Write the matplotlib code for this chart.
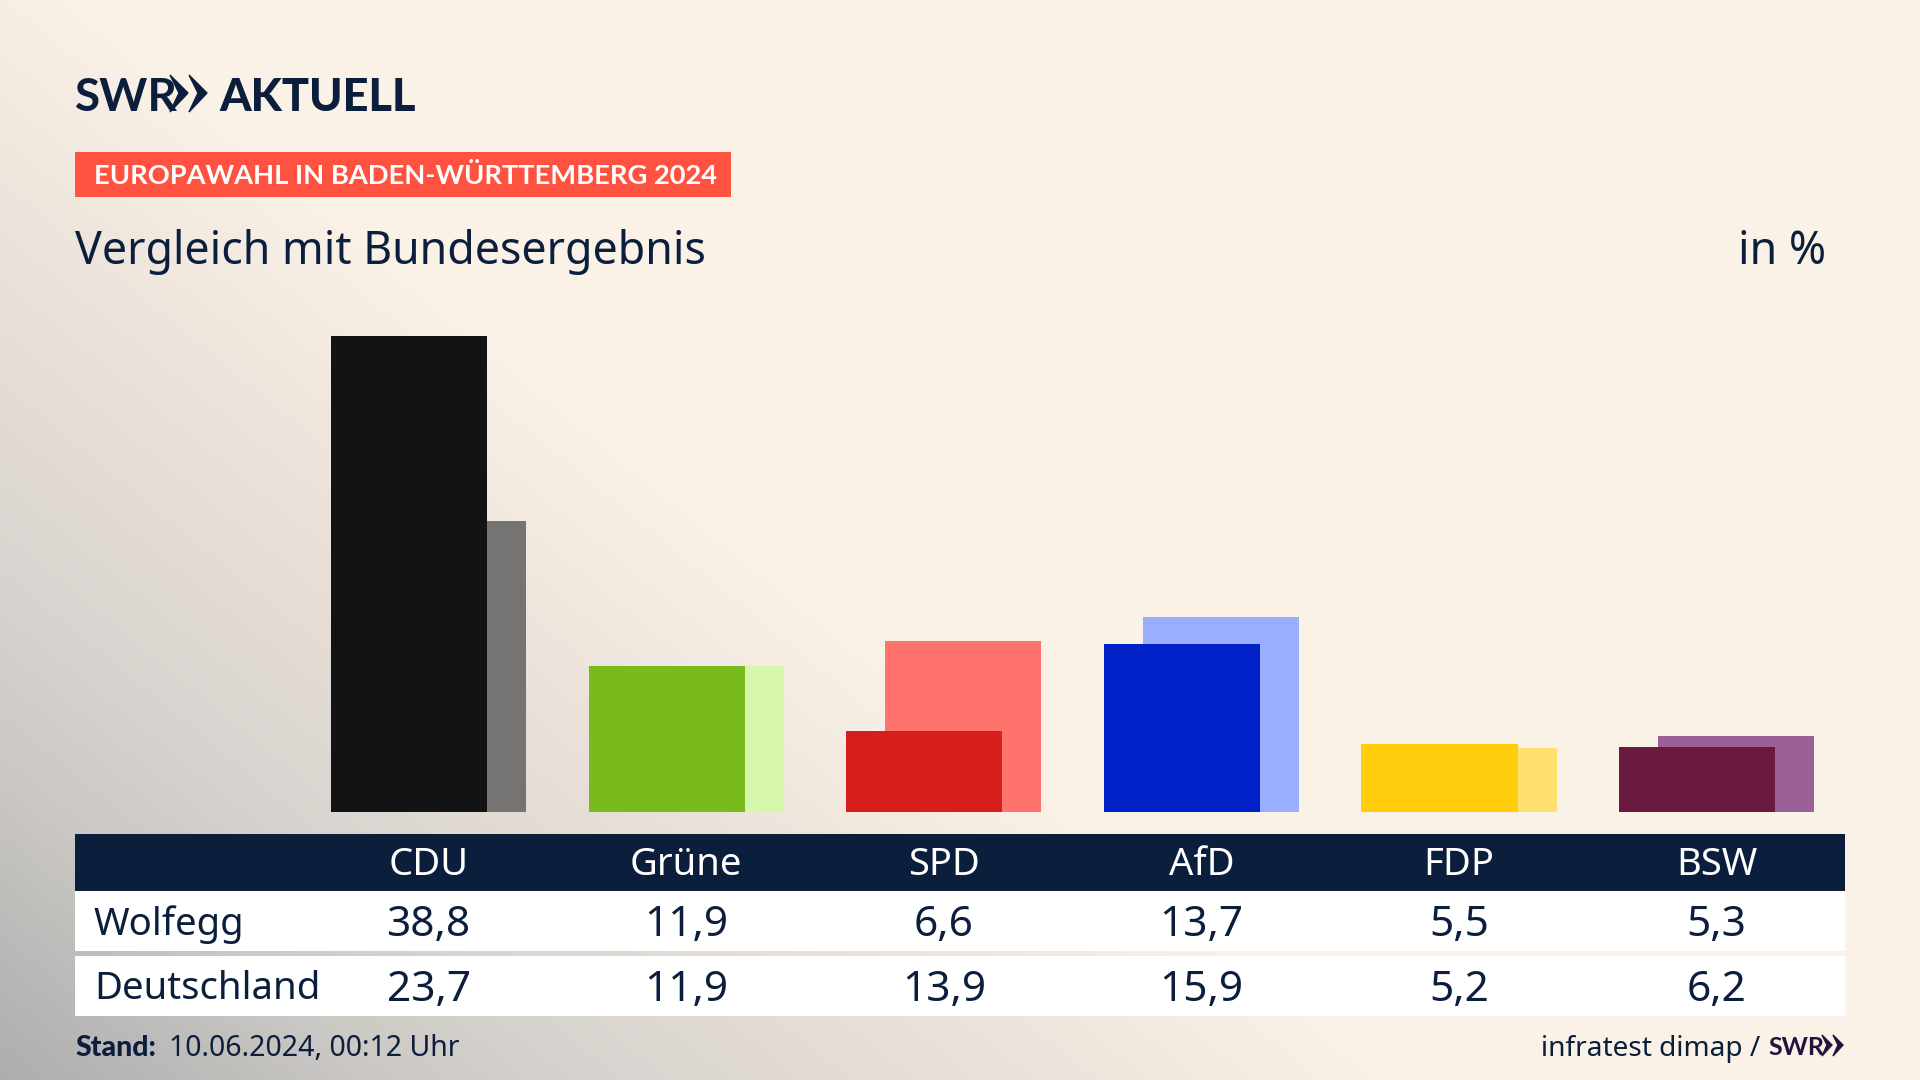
import numpy as np
import matplotlib
matplotlib.use("Agg")
import matplotlib.pyplot as plt
from matplotlib.patches import Rectangle, Polygon
from matplotlib.colors import LinearSegmentedColormap
from matplotlib.transforms import blended_transform_factory

parties = ["CDU", "Grüne", "SPD", "AfD", "FDP", "BSW"]
wolfegg = [38.8, 11.9, 6.6, 13.7, 5.5, 5.3]
deutschland = [23.7, 11.9, 13.9, 15.9, 5.2, 6.2]
front_colors = ["#131313", "#79bb1b", "#d61f1d", "#0020c8", "#ffcd0b", "#6a1a3f"]
back_colors = ["#757472", "#d6f6ac", "#ff736c", "#9badff", "#ffe06f", "#9b6095"]
row_names = ["Wolfegg", "Deutschland"]

NAVY = "#0b1f3d"
BODY = ["Noto Sans", "DejaVu Sans"]
LOGO = ["Lato", "Liberation Sans"]

fig = plt.figure(figsize=(19.2, 10.8), dpi=100)
bg = fig.add_axes([0, 0, 1, 1])
bg.set_xlim(0, 1920); bg.set_ylim(1080, 0); bg.axis("off")

# background: diagonal linear gradient, grey bottom-left to cream
xx, yy = np.meshgrid(np.linspace(0, 1920, 480), np.linspace(0, 1080, 270))
d = xx / 1400 + (1080 - yy) / 1150
t = np.clip(1 - d, 0, 1)
cmap = LinearSegmentedColormap.from_list(
    "bg", [(0, "#faf1e7"), (0.39, "#e4dcd5"), (0.57, "#d7d4cf"), (0.71, "#cdcac6"), (1, "#aeaeae")])
bg.imshow(t, extent=[0, 1920, 1080, 0], cmap=cmap, vmin=0, vmax=1.0, aspect="auto", zorder=0)

# chart
ax = fig.add_axes([299.8 / 1920, (1080 - 812) / 1080, 1545.6 / 1920, 491.2 / 1080])
ax.set_xlim(-0.5, 5.5); ax.set_ylim(0, 40); ax.axis("off"); ax.patch.set_alpha(0)
x = np.arange(len(parties))
ax.bar(x + 0.0757, deutschland, width=0.606, color=back_colors)
ax.bar(x - 0.0757, wolfegg, width=0.606, color=front_colors)

# header
for off in (0, 19):
    bg.add_patch(Polygon([(170 + off, 75), (188 + off, 93), (170 + off, 112), (179 + off, 93)],
                         closed=True, fc=NAVY, ec=NAVY, lw=1, zorder=3))
bg.text(75, 111, "SWR", family=LOGO, weight="bold", fontsize=33, color=NAVY, va="baseline", zorder=3)
bg.text(219, 111, "AKTUELL", family=LOGO, weight="black", fontsize=32.5, color=NAVY, va="baseline", zorder=3)

bg.add_patch(Rectangle((75, 152), 656, 45, fc="#ff5240", ec="none", zorder=2))
bg.text(94, 184, "EUROPAWAHL IN BADEN-WÜRTTEMBERG 2024", family=LOGO, weight="bold",
        fontsize=19.6, color="white", va="baseline", zorder=3)
bg.text(75, 264, "Vergleich mit Bundesergebnis", family=BODY, fontsize=32.2, color=NAVY, va="baseline", zorder=3)
bg.text(1826, 264, "in %", family=BODY, fontsize=32.2, color=NAVY, va="baseline", ha="right", zorder=3)

# table
tr = blended_transform_factory(ax.transData, bg.transData)
bg.add_patch(Rectangle((75, 834), 1770, 57, fc=NAVY, ec="none", zorder=2))
bg.add_patch(Rectangle((75, 891), 1770, 60, fc="white", ec="none", zorder=2))
bg.add_patch(Rectangle((75, 956), 1770, 60, fc="white", ec="none", zorder=2))
ax.set_zorder(2)
for i, p in enumerate(parties):
    ax.text(i, 875, p, transform=tr, ha="center", va="baseline", family=BODY, fontsize=27.5, color="white")
    ax.text(i, 936, f"{wolfegg[i]:.1f}".replace(".", ","), transform=tr, ha="center", va="baseline",
            family=BODY, fontsize=30.5, color=NAVY)
    ax.text(i, 1001, f"{deutschland[i]:.1f}".replace(".", ","), transform=tr, ha="center", va="baseline",
            family=BODY, fontsize=30.5, color=NAVY)
bg.text(94, 935, row_names[0], family=BODY, fontsize=27.6, color=NAVY, va="baseline", zorder=3)
bg.text(94, 999, row_names[1], family=BODY, fontsize=27.6, color=NAVY, va="baseline", zorder=3)

# footer
bg.text(75, 1056, "Stand:", family=LOGO, weight="black", fontsize=20.5, color=NAVY, va="baseline", zorder=3)
bg.text(169, 1056, "10.06.2024, 00:12 Uhr", family=BODY, fontsize=20.5, color=NAVY, va="baseline", zorder=3)
bg.text(1760, 1056, "infratest dimap /", family=BODY, fontsize=20.2, color=NAVY, va="baseline", ha="right", zorder=3)
bg.text(1768, 1055, "SWR", family=LOGO, weight="bold", fontsize=18, color="#25123f", va="baseline", zorder=3)
for off in (0, 11):
    bg.add_patch(Polygon([(1822 + off, 1035), (1832 + off, 1045), (1822 + off, 1056), (1827 + off, 1045)],
                         closed=True, fc="#25123f", ec="#25123f", lw=1, zorder=3))

fig.savefig("out.png", dpi=100)
